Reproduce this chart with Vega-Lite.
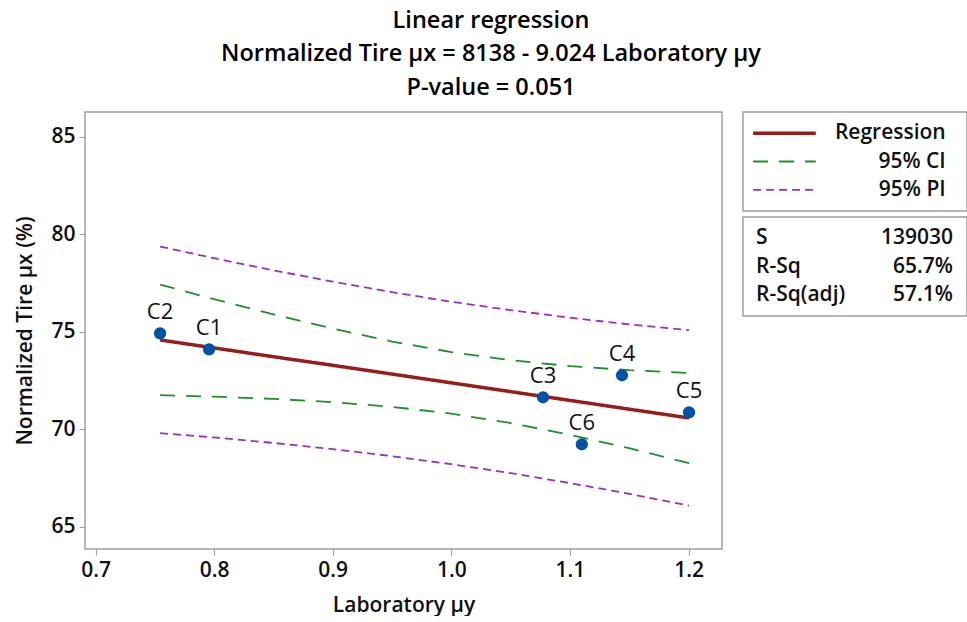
{
  "$schema": "https://vega.github.io/schema/vega-lite/v6.json",
  "padding": {"left": 14, "top": 8, "right": 0, "bottom": 0},
  "background": "white",
  "datasets": {
    "fit": [
      {"x": 0.7544, "y": 74.59, "series": "Regression", "bound": "fit"},
      {"x": 0.80, "y": 74.18, "series": "Regression", "bound": "fit"},
      {"x": 0.85, "y": 73.73, "series": "Regression", "bound": "fit"},
      {"x": 0.90, "y": 73.29, "series": "Regression", "bound": "fit"},
      {"x": 0.95, "y": 72.84, "series": "Regression", "bound": "fit"},
      {"x": 1.00, "y": 72.39, "series": "Regression", "bound": "fit"},
      {"x": 1.05, "y": 71.94, "series": "Regression", "bound": "fit"},
      {"x": 1.10, "y": 71.49, "series": "Regression", "bound": "fit"},
      {"x": 1.15, "y": 71.04, "series": "Regression", "bound": "fit"},
      {"x": 1.2004, "y": 70.59, "series": "Regression", "bound": "fit"},
      {"x": 0.7544, "y": 71.76, "series": "95% CI", "bound": "lower"},
      {"x": 0.80, "y": 71.68, "series": "95% CI", "bound": "lower"},
      {"x": 0.85, "y": 71.57, "series": "95% CI", "bound": "lower"},
      {"x": 0.90, "y": 71.40, "series": "95% CI", "bound": "lower"},
      {"x": 0.95, "y": 71.16, "series": "95% CI", "bound": "lower"},
      {"x": 1.00, "y": 70.81, "series": "95% CI", "bound": "lower"},
      {"x": 1.05, "y": 70.33, "series": "95% CI", "bound": "lower"},
      {"x": 1.10, "y": 69.73, "series": "95% CI", "bound": "lower"},
      {"x": 1.15, "y": 69.04, "series": "95% CI", "bound": "lower"},
      {"x": 1.2004, "y": 68.27, "series": "95% CI", "bound": "lower"},
      {"x": 0.7544, "y": 77.43, "series": "95% CI", "bound": "upper"},
      {"x": 0.80, "y": 76.68, "series": "95% CI", "bound": "upper"},
      {"x": 0.85, "y": 75.90, "series": "95% CI", "bound": "upper"},
      {"x": 0.90, "y": 75.17, "series": "95% CI", "bound": "upper"},
      {"x": 0.95, "y": 74.51, "series": "95% CI", "bound": "upper"},
      {"x": 1.00, "y": 73.97, "series": "95% CI", "bound": "upper"},
      {"x": 1.05, "y": 73.55, "series": "95% CI", "bound": "upper"},
      {"x": 1.10, "y": 73.25, "series": "95% CI", "bound": "upper"},
      {"x": 1.15, "y": 73.04, "series": "95% CI", "bound": "upper"},
      {"x": 1.2004, "y": 72.90, "series": "95% CI", "bound": "upper"},
      {"x": 0.7544, "y": 69.81, "series": "95% PI", "bound": "lower"},
      {"x": 0.80, "y": 69.59, "series": "95% PI", "bound": "lower"},
      {"x": 0.85, "y": 69.31, "series": "95% PI", "bound": "lower"},
      {"x": 0.90, "y": 68.99, "series": "95% PI", "bound": "lower"},
      {"x": 0.95, "y": 68.63, "series": "95% PI", "bound": "lower"},
      {"x": 1.00, "y": 68.22, "series": "95% PI", "bound": "lower"},
      {"x": 1.05, "y": 67.76, "series": "95% PI", "bound": "lower"},
      {"x": 1.10, "y": 67.25, "series": "95% PI", "bound": "lower"},
      {"x": 1.15, "y": 66.70, "series": "95% PI", "bound": "lower"},
      {"x": 1.2004, "y": 66.09, "series": "95% PI", "bound": "lower"},
      {"x": 0.7544, "y": 79.38, "series": "95% PI", "bound": "upper"},
      {"x": 0.80, "y": 78.78, "series": "95% PI", "bound": "upper"},
      {"x": 0.85, "y": 78.16, "series": "95% PI", "bound": "upper"},
      {"x": 0.90, "y": 77.58, "series": "95% PI", "bound": "upper"},
      {"x": 0.95, "y": 77.04, "series": "95% PI", "bound": "upper"},
      {"x": 1.00, "y": 76.55, "series": "95% PI", "bound": "upper"},
      {"x": 1.05, "y": 76.12, "series": "95% PI", "bound": "upper"},
      {"x": 1.10, "y": 75.73, "series": "95% PI", "bound": "upper"},
      {"x": 1.15, "y": 75.39, "series": "95% PI", "bound": "upper"},
      {"x": 1.2004, "y": 75.09, "series": "95% PI", "bound": "upper"}
    ],
    "pts": [
      {"label": "C1", "x": 0.7957, "y": 74.11},
      {"label": "C2", "x": 0.7544, "y": 74.93},
      {"label": "C3", "x": 1.0773, "y": 71.65},
      {"label": "C4", "x": 1.1439, "y": 72.78},
      {"label": "C5", "x": 1.2004, "y": 70.88},
      {"label": "C6", "x": 1.1100, "y": 69.24}
    ],
    "leg": [
      {"series": "Regression"},
      {"series": "95% CI"},
      {"series": "95% PI"}
    ],
    "stats": [
      {"stat": "S", "value": "139030"},
      {"stat": "R-Sq", "value": "65.7%"},
      {"stat": "R-Sq(adj)", "value": "57.1%"}
    ]
  },
  "title": {
    "text": ["Linear regression", "Normalized Tire μx = 8138 - 9.024 Laboratory μy", "P-value = 0.051"],
    "font": "Open Sans",
    "fontSize": 23.5,
    "fontWeight": 600,
    "lineHeight": 33.5,
    "anchor": "middle",
    "frame": "bounds",
    "offset": 12,
    "color": "black"
  },
  "spacing": 19,
  "hconcat": [
    {
      "width": 637,
      "height": 437,
      "layer": [
        {
          "data": {"name": "fit"},
          "transform": [{"filter": "datum.series !== 'Regression'"}],
          "mark": {"type": "line", "strokeWidth": 1.8, "clip": true},
          "encoding": {
            "x": {"field": "x", "type": "quantitative", "scale": {"domain": [0.6911, 1.2282], "nice": false, "zero": false}, "axis": {"title": "Laboratory μy", "values": [0.7, 0.8, 0.9, 1.0, 1.1, 1.2], "format": ".1f"}},
            "y": {"field": "y", "type": "quantitative", "scale": {"domain": [63.87, 86.28], "nice": false, "zero": false}, "axis": {"title": "Normalized Tire μx (%)", "values": [65, 70, 75, 80, 85]}},
            "color": {"field": "series", "type": "nominal", "scale": {"domain": ["Regression", "95% CI", "95% PI"], "range": ["#9a1b1b", "#1e8f2a", "#9b2ec8"]}, "legend": null},
            "strokeDash": {"field": "series", "type": "nominal", "scale": {"domain": ["Regression", "95% CI", "95% PI"], "range": [[1, 0], [15, 11], [8, 5]]}, "legend": null},
            "detail": {"field": "bound", "type": "nominal"}
          }
        },
        {
          "data": {"name": "fit"},
          "transform": [{"filter": "datum.series === 'Regression'"}],
          "mark": {"type": "line", "strokeWidth": 3.5, "clip": true},
          "encoding": {
            "x": {"field": "x", "type": "quantitative"},
            "y": {"field": "y", "type": "quantitative"},
            "color": {"field": "series", "type": "nominal", "legend": null},
            "strokeDash": {"field": "series", "type": "nominal", "legend": null}
          }
        },
        {
          "data": {"name": "pts"},
          "mark": {"type": "point", "filled": true, "size": 150, "color": "#0052a3", "opacity": 1},
          "encoding": {
            "x": {"field": "x", "type": "quantitative"},
            "y": {"field": "y", "type": "quantitative"}
          }
        },
        {
          "data": {"name": "pts"},
          "mark": {"type": "text", "dy": -21, "fontSize": 22, "font": "Open Sans", "color": "#111111"},
          "encoding": {
            "x": {"field": "x", "type": "quantitative"},
            "y": {"field": "y", "type": "quantitative"},
            "text": {"field": "label", "type": "nominal"}
          }
        }
      ]
    },
    {
      "spacing": 4,
      "vconcat": [
        {
          "width": 224,
          "height": 99,
          "data": {"name": "leg"},
          "layer": [
            {
              "transform": [{"filter": "datum.series !== 'Regression'"}],
              "mark": {"type": "rule", "strokeWidth": 1.8},
              "encoding": {
                "y": {"field": "series", "type": "nominal", "sort": ["Regression", "95% CI", "95% PI"], "scale": {"type": "point", "padding": 0.75}, "axis": null},
                "x": {"datum": 0.045, "type": "quantitative", "scale": {"domain": [0, 1], "nice": false, "zero": false}, "axis": null},
                "x2": {"datum": 0.325},
                "color": {"field": "series", "type": "nominal", "legend": null},
                "strokeDash": {"field": "series", "type": "nominal", "legend": null}
              }
            },
            {
              "transform": [{"filter": "datum.series === 'Regression'"}],
              "mark": {"type": "rule", "strokeWidth": 3.5},
              "encoding": {
                "y": {"field": "series", "type": "nominal", "sort": ["Regression", "95% CI", "95% PI"]},
                "x": {"datum": 0.045, "type": "quantitative"},
                "x2": {"datum": 0.325},
                "color": {"field": "series", "type": "nominal", "legend": null},
                "strokeDash": {"field": "series", "type": "nominal", "legend": null}
              }
            },
            {
              "mark": {"type": "text", "align": "right", "fontSize": 21, "fontWeight": 600, "font": "Open Sans", "color": "#111111"},
              "encoding": {
                "y": {"field": "series", "type": "nominal", "sort": ["Regression", "95% CI", "95% PI"]},
                "x": {"datum": 0.905, "type": "quantitative"},
                "text": {"field": "series", "type": "nominal"}
              }
            }
          ]
        },
        {
          "width": 224,
          "height": 99,
          "data": {"name": "stats"},
          "layer": [
            {
              "mark": {"type": "text", "align": "left", "fontSize": 21, "fontWeight": 600, "font": "Open Sans", "color": "#111111"},
              "encoding": {
                "y": {"field": "stat", "type": "nominal", "sort": ["S", "R-Sq", "R-Sq(adj)"], "scale": {"type": "point", "padding": 0.75}, "axis": null},
                "x": {"datum": 0.058, "type": "quantitative", "scale": {"domain": [0, 1], "nice": false, "zero": false}, "axis": null},
                "text": {"field": "stat", "type": "nominal"}
              }
            },
            {
              "mark": {"type": "text", "align": "right", "fontSize": 21, "fontWeight": 600, "font": "Open Sans", "color": "#111111"},
              "encoding": {
                "y": {"field": "stat", "type": "nominal", "sort": ["S", "R-Sq", "R-Sq(adj)"]},
                "x": {"datum": 0.9375, "type": "quantitative"},
                "text": {"field": "value", "type": "nominal"}
              }
            }
          ]
        }
      ]
    }
  ],
  "config": {
    "view": {"stroke": "#a0a0a0", "strokeWidth": 1.5},
    "font": "Open Sans",
    "axis": {
      "grid": false,
      "domain": false,
      "tickColor": "#a0a0a0",
      "tickSize": 6,
      "tickWidth": 1.2,
      "labelFont": "Open Sans",
      "labelFontSize": 21,
      "labelFontWeight": 600,
      "labelColor": "#111111",
      "labelPadding": 4,
      "titleFont": "Open Sans",
      "titleFontSize": 21,
      "titleFontWeight": 600,
      "titleColor": "#111111"
    },
    "axisX": {"titlePadding": 14},
    "axisY": {"titlePadding": 15}
  }
}
